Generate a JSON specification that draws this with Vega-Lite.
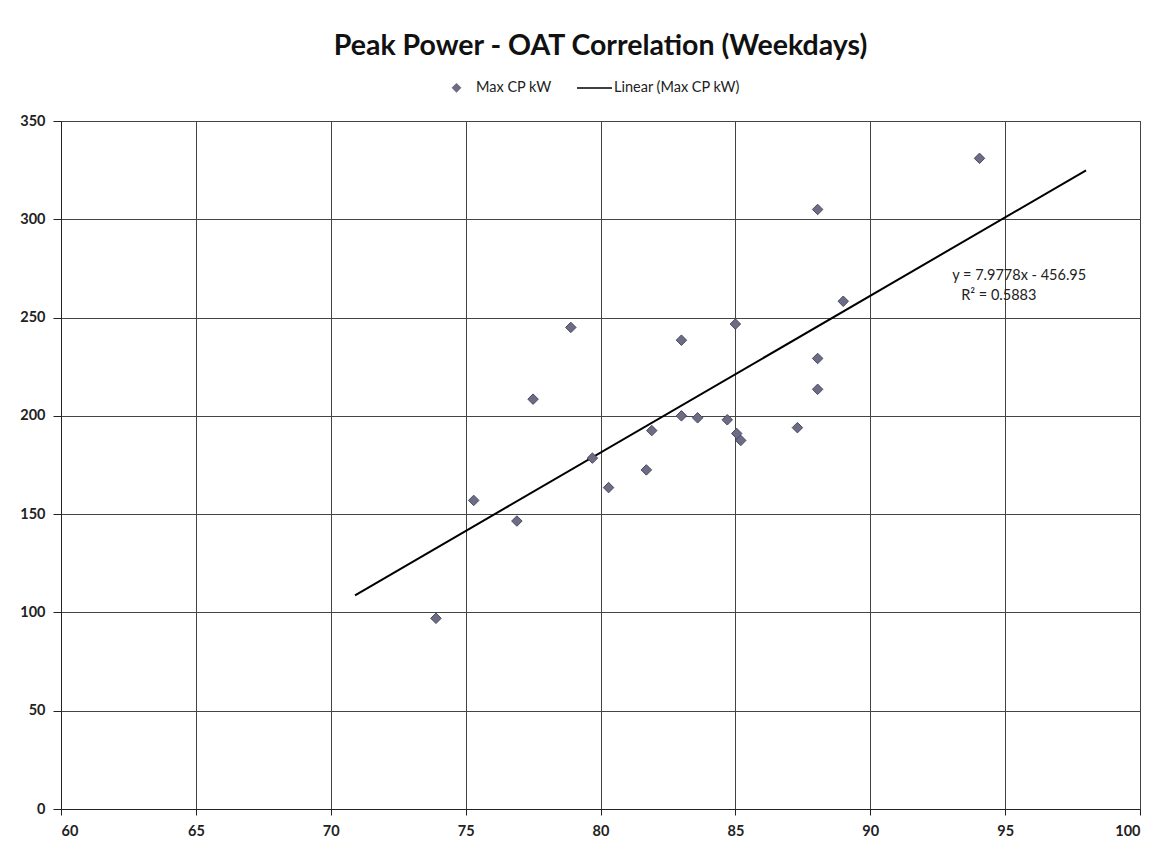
{
  "$schema": "https://vega.github.io/schema/vega-lite/v6.json",
  "width": 1079,
  "height": 688,
  "autosize": "none",
  "padding": {"left": 61, "top": 121, "right": 23, "bottom": 41},
  "background": "white",
  "title": {
    "text": "Peak Power - OAT Correlation (Weekdays)",
    "font": "Lato",
    "fontSize": 28.5,
    "fontWeight": "bold",
    "color": "#111111",
    "anchor": "middle",
    "offset": 9
  },
  "config": {
    "font": "Lato",
    "view": {"stroke": "#333333", "strokeWidth": 1},
    "axis": {
      "gridColor": "#444444",
      "gridOpacity": 1,
      "gridWidth": 1,
      "domainColor": "#222222",
      "tickColor": "#222222",
      "tickSize": 6,
      "labelFont": "Lato",
      "labelFontSize": 14.5,
      "labelFontWeight": "bold",
      "labelColor": "#222222",
      "labelPadding": 8,
      "title": null
    }
  },
  "datasets": {
    "points": [
      {"oat": 73.9, "kw": 97, "series": "Max CP kW"},
      {"oat": 75.3, "kw": 157, "series": "Max CP kW"},
      {"oat": 76.9, "kw": 146.5, "series": "Max CP kW"},
      {"oat": 77.5, "kw": 208.5, "series": "Max CP kW"},
      {"oat": 78.9, "kw": 245, "series": "Max CP kW"},
      {"oat": 79.7, "kw": 178.5, "series": "Max CP kW"},
      {"oat": 80.3, "kw": 163.5, "series": "Max CP kW"},
      {"oat": 81.7, "kw": 172.5, "series": "Max CP kW"},
      {"oat": 81.9, "kw": 192.5, "series": "Max CP kW"},
      {"oat": 83.0, "kw": 200, "series": "Max CP kW"},
      {"oat": 83.0, "kw": 238.5, "series": "Max CP kW"},
      {"oat": 83.6, "kw": 199, "series": "Max CP kW"},
      {"oat": 84.7, "kw": 198, "series": "Max CP kW"},
      {"oat": 85.0, "kw": 246.7, "series": "Max CP kW"},
      {"oat": 85.05, "kw": 191, "series": "Max CP kW"},
      {"oat": 85.2, "kw": 187.5, "series": "Max CP kW"},
      {"oat": 87.3, "kw": 194, "series": "Max CP kW"},
      {"oat": 88.05, "kw": 213.5, "series": "Max CP kW"},
      {"oat": 88.05, "kw": 229.2, "series": "Max CP kW"},
      {"oat": 88.05, "kw": 305, "series": "Max CP kW"},
      {"oat": 89.0, "kw": 258.3, "series": "Max CP kW"},
      {"oat": 94.05, "kw": 331, "series": "Max CP kW"}
    ],
    "trend": [
      {"oat": 70.9, "kw": 108.7, "series": "Linear (Max CP kW)"},
      {"oat": 98.0, "kw": 324.9, "series": "Linear (Max CP kW)"}
    ],
    "labels": [
      {"oat": 93.04, "kw": 271.2, "text": "y = 7.9778x - 456.95"},
      {"oat": 93.37, "kw": 260.9, "text": "R² = 0.5883"}
    ]
  },
  "layer": [
    {
      "data": {"name": "trend"},
      "mark": {"type": "line", "color": "#000000", "strokeWidth": 2},
      "encoding": {
        "x": {"field": "oat", "type": "quantitative", "scale": {"domain": [60, 100], "nice": false, "zero": false},
          "axis": {"values": [60, 65, 70, 75, 80, 85, 90, 95, 100], "grid": true, "labelPadding": 9}},
        "y": {"field": "kw", "type": "quantitative", "scale": {"domain": [0, 350], "nice": false},
          "axis": {"values": [0, 50, 100, 150, 200, 250, 300, 350], "grid": true, "tickSize": 8, "labelPadding": 8}},
        "color": {"field": "series", "type": "nominal",
          "scale": {"domain": ["Max CP kW", "Linear (Max CP kW)"], "range": ["#6c6c86", "#000000"]},
          "legend": {
            "orient": "none",
            "legendX": 377,
            "legendY": -52,
            "direction": "horizontal",
            "title": null,
            "labelFont": "Lato",
            "labelFontSize": 14.5,
            "labelColor": "#222222",
            "columnPadding": 22,
            "labelOffset": 1,
            "symbolStrokeWidth": 1.5,
            "encode": {
              "symbols": {
                "update": {
                  "stroke": {"signal": "datum.value === 'Max CP kW' ? '#55556a' : '#000000'"},
                  "size": {"signal": "datum.value === 'Max CP kW' ? 60 : 1225"},
                  "strokeWidth": {"value": 1.5}
                }
              }
            }
          }
        },
        "shape": {"field": "series", "type": "nominal",
          "scale": {"domain": ["Max CP kW", "Linear (Max CP kW)"], "range": ["diamond", "stroke"]}}
      }
    },
    {
      "data": {"name": "points"},
      "mark": {"type": "point", "filled": true, "size": 110, "opacity": 1, "stroke": "#4a4a5e", "strokeWidth": 1},
      "encoding": {
        "x": {"field": "oat", "type": "quantitative"},
        "y": {"field": "kw", "type": "quantitative"},
        "color": {"field": "series", "type": "nominal"},
        "shape": {"field": "series", "type": "nominal"}
      }
    },
    {
      "data": {"name": "labels"},
      "mark": {"type": "text", "align": "left", "baseline": "middle", "font": "Lato", "fontSize": 14.5, "color": "#222222"},
      "encoding": {
        "x": {"field": "oat", "type": "quantitative"},
        "y": {"field": "kw", "type": "quantitative"},
        "text": {"field": "text"}
      }
    }
  ]
}
